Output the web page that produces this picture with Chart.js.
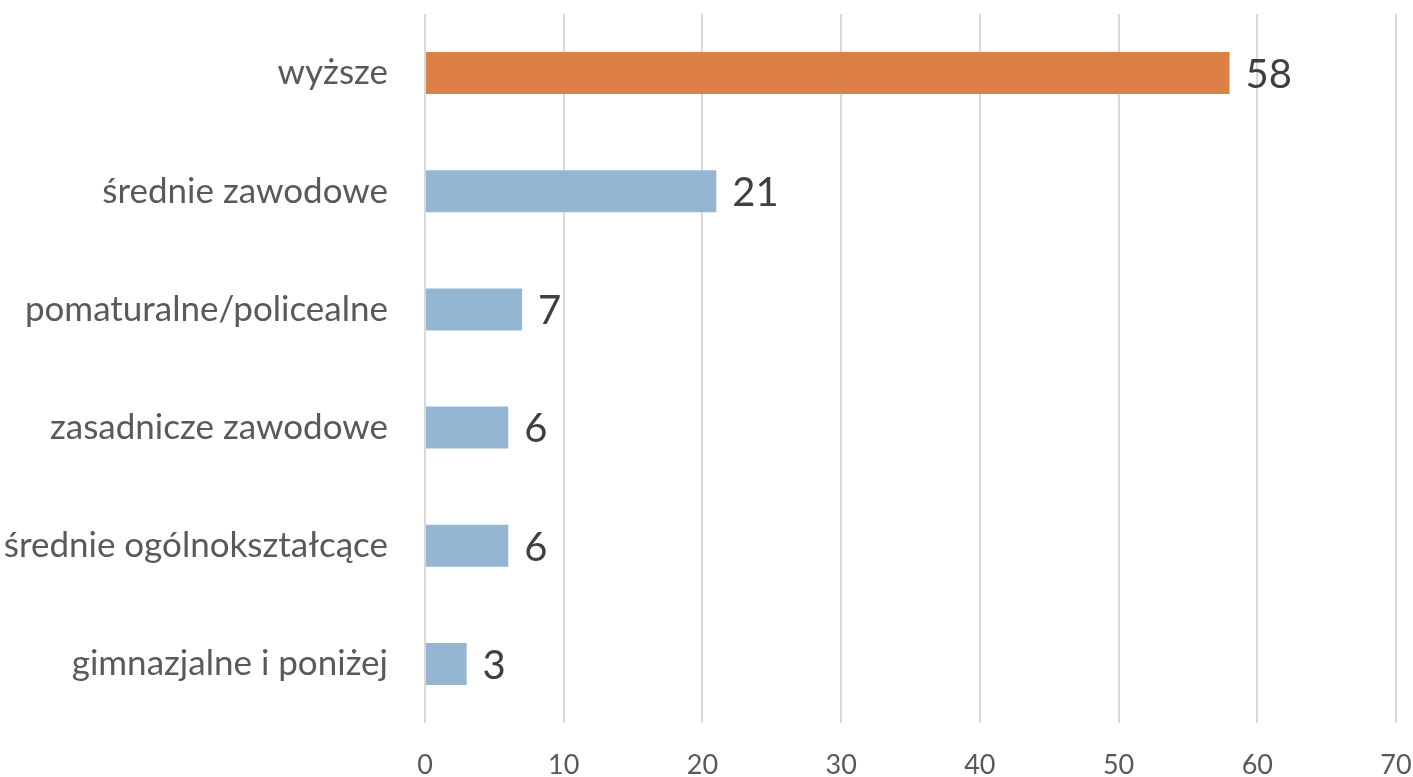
<!DOCTYPE html>
<html><head><meta charset="utf-8">
<script src="https://cdn.jsdelivr.net/npm/chart.js@4"></script>
<style>html,body{margin:0;padding:0;background:#fff}#wrap{width:1413px;height:777px}</style>
</head><body><div id="wrap"><canvas id="c"></canvas></div>
<script>
const categories = ["wyższe","średnie zawodowe","pomaturalne/policealne","zasadnicze zawodowe","średnie ogólnokształcące","gimnazjalne i poniżej"];
const values = [58,21,7,6,6,3];
const barColors = ["#DD8047","#94B6D2","#94B6D2","#94B6D2","#94B6D2","#94B6D2"];
const xTicks = [0,10,20,30,40,50,60,70];
const FONT = "Lato, 'Open Sans', sans-serif";

const labelPlugin = {
  id:'lbl',
  afterDatasetsDraw(chart){
    const ctx = chart.ctx;
    const meta = chart.getDatasetMeta(0);
    ctx.save();
    ctx.font = "40px " + FONT;
    ctx.fillStyle = "#404040";
    ctx.textAlign = "left";
    ctx.textBaseline = "middle";
    meta.data.forEach((bar,i)=>{
      ctx.fillText(String(values[i]), bar.x + 16, bar.y + 2);
    });
    ctx.restore();
  }
};
function zeroPad(s){ s.paddingTop = 0; s.paddingBottom = 0; s.paddingLeft = 0; s.paddingRight = 0; }

new Chart(document.getElementById('c'), {
  type:'bar',
  data:{labels:categories, datasets:[{data:values, backgroundColor:barColors, borderWidth:0, barPercentage:0.355, categoryPercentage:1}]},
  options:{
    indexAxis:'y', responsive:true, maintainAspectRatio:false, animation:false,
    layout:{padding:{left:0,right:17,top:14,bottom:0}},
    plugins:{legend:{display:false}, tooltip:{enabled:false}},
    scales:{
      x:{min:0,max:70,
        afterBuildTicks(s){ s.ticks = xTicks.map(v=>({value:v})); },
        afterFit(s){ s.height = 54; zeroPad(s); },
        grid:{color:"#D9D9D9", lineWidth:2, drawTicks:false},
        border:{display:false},
        ticks:{font:{family:FONT,size:27}, color:"#595959", padding:26, maxRotation:0}
      },
      y:{
        afterFit(s){ s.width = 425; zeroPad(s); },
        grid:{display:false}, border:{display:false},
        ticks:{font:{family:FONT,size:35}, color:"#595959", padding:29}
      }
    }
  },
  plugins:[labelPlugin]
});
</script></body></html>
